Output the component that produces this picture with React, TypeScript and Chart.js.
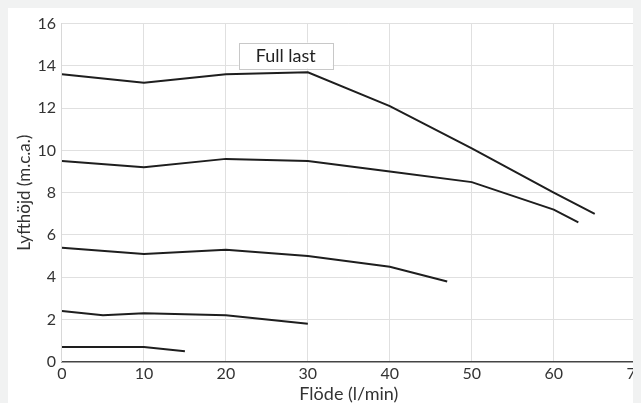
import { useEffect, useRef } from "react";
import { Chart, registerables } from "chart.js";

Chart.register(...registerables);

// Pump curves
const curve1X = [0, 10, 20, 30, 40, 50, 60, 65];
const curve1Y = [13.6, 13.2, 13.6, 13.7, 12.1, 10.1, 8.0, 7.0];
const curve2X = [0, 10, 20, 30, 40, 50, 60, 63];
const curve2Y = [9.5, 9.2, 9.6, 9.5, 9.0, 8.5, 7.2, 6.6];
const curve3X = [0, 10, 20, 30, 40, 47];
const curve3Y = [5.4, 5.1, 5.3, 5.0, 4.5, 3.8];
const curve4X = [0, 5, 10, 20, 30];
const curve4Y = [2.4, 2.2, 2.3, 2.2, 1.8];
const curve5X = [0, 10, 15];
const curve5Y = [0.7, 0.7, 0.5];

const boxLabel = "Full last";
const xTitle = "Flöde (l/min)";
const yTitle = "Lyfthöjd (m.c.a.)";

const FONT = "Lato";

function toPoints(xs: number[], ys: number[]) {
  return xs.map((x, i) => ({ x, y: ys[i] }));
}

// draws the boxed "Full last" label inside the plot
const boxLabelPlugin = {
  id: "boxLabel",
  afterDraw(chart: Chart) {
    const { ctx, chartArea } = chart;
    const cx = chartArea.left + (chartArea.right - chartArea.left) * 0.39;
    const cy = chartArea.top + 32;
    ctx.save();
    ctx.font = `18px ${FONT}`;
    const w = ctx.measureText(boxLabel).width + 34;
    const h = 26;
    ctx.fillStyle = "#ffffff";
    ctx.fillRect(cx - w / 2, cy - h / 2, w, h);
    ctx.strokeStyle = "#c8c8c8";
    ctx.lineWidth = 1;
    ctx.strokeRect(Math.round(cx - w / 2) + 0.5, Math.round(cy - h / 2) + 0.5, Math.round(w), h);
    ctx.fillStyle = "#222";
    ctx.textAlign = "center";
    ctx.textBaseline = "middle";
    ctx.fillText(boxLabel, cx, cy + 1);
    ctx.restore();
  },
};

export default function App() {
  const canvasRef = useRef<HTMLCanvasElement>(null);
  const chartRef = useRef<Chart | null>(null);

  useEffect(() => {
    document.body.style.background = "#f1f2f2";
    if (!canvasRef.current) return;
    if (chartRef.current) chartRef.current.destroy();
    const ctx = canvasRef.current.getContext("2d");
    if (!ctx) return;

    const series = [
      toPoints(curve1X, curve1Y),
      toPoints(curve2X, curve2Y),
      toPoints(curve3X, curve3Y),
      toPoints(curve4X, curve4Y),
      toPoints(curve5X, curve5Y),
    ];

    chartRef.current = new Chart(ctx, {
      type: "line",
      data: {
        datasets: series.map((data, i) => ({
          label: `curve ${i + 1}`,
          data,
          borderColor: "#1e1e1e",
          borderWidth: 2,
          pointRadius: 0,
          fill: false,
          tension: 0,
        })),
      },
      options: {
        animation: false,
        responsive: true,
        maintainAspectRatio: false,
        layout: { padding: { top: 5, left: 6, right: 0, bottom: 0 } },
        plugins: {
          legend: { display: false },
          tooltip: { enabled: false },
        },
        scales: {
          x: {
            type: "linear",
            min: 0,
            max: 70,
            ticks: { stepSize: 10, color: "#333", font: { family: FONT, size: 16 }, padding: 2 },
            grid: { color: "#e0e0e0", drawTicks: false },
            border: { color: "#444", width: 1.5 },
            title: {
              display: true,
              text: xTitle,
              color: "#333",
              font: { family: FONT, size: 18, lineHeight: 1 },
              padding: { top: 0, bottom: 0 },
            },
          },
          y: {
            min: 0,
            max: 16,
            ticks: { stepSize: 2, color: "#333", font: { family: FONT, size: 16 }, padding: 6 },
            grid: { color: "#e0e0e0", drawTicks: false },
            border: { color: "#d8d8d8" },
            title: {
              display: true,
              text: yTitle,
              color: "#333",
              font: { family: FONT, size: 17 },
              padding: { top: 0, bottom: -3 },
            },
          },
        },
      },
      plugins: [boxLabelPlugin],
    });

    return () => {
      if (chartRef.current) {
        chartRef.current.destroy();
        chartRef.current = null;
      }
    };
  }, []);

  return (
    <div style={{ background: "#fff", width: 633, height: 395, overflow: "hidden" }}>
      <div style={{ width: 639, height: 395, position: "relative" }}>
        <canvas ref={canvasRef} />
      </div>
    </div>
  );
}
